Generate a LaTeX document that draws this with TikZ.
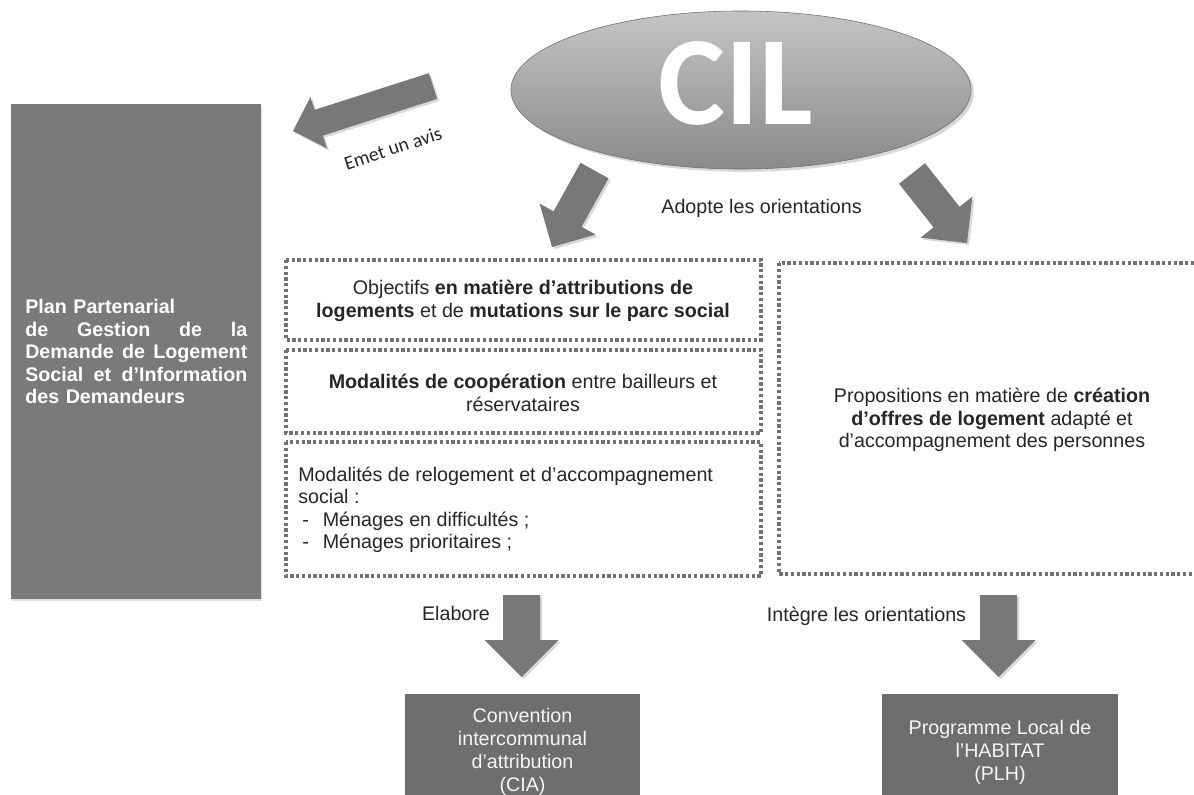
\documentclass[tikz,border=0pt]{standalone}
\usepackage{fontspec}
\setmainfont{Liberation Sans}
\newfontfamily\calibrifont{Carlito}
\usetikzlibrary{shapes.geometric,shadows,calc}

\definecolor{boxgray}{HTML}{7A7A7A}
\definecolor{darkgray}{HTML}{6E6E6E}
\definecolor{arrowgray}{HTML}{787878}
\definecolor{dashgray}{HTML}{727272}
\definecolor{inkgray}{HTML}{262626}
\definecolor{ciltop}{HTML}{C4C4C4}
\definecolor{cilbottom}{HTML}{8A8A8A}

% block arrow: tail, tip, shaft width (px)
\newcommand{\bigarrow}[3]{%
  \coordinate (ah) at ($#2!#3*0.025cm!#1$);
  \fill[arrowgray, drop shadow={shadow xshift=1.5pt,shadow yshift=-1.5pt,opacity=.3}]
    ($#1!#3*0.0125cm!90:#2$) -- ($(ah)!#3*0.0125cm!90:#2$) -- ($(ah)!#3*0.025cm!90:#2$)
    -- #2 -- ($(ah)!#3*0.025cm!-90:#2$) -- ($(ah)!#3*0.0125cm!-90:#2$)
    -- ($#1!#3*0.0125cm!-90:#2$) -- cycle;}

\begin{document}
\begin{tikzpicture}[x=0.025cm,y=-0.025cm]
  \tikzstyle{bodytext}=[inner sep=0pt, text=inkgray, align=center, font=\fontsize{14}{16}\selectfont]
  \tikzstyle{dashbox}=[draw=dashgray, line width=2.4pt, dash pattern=on 2.3pt off 1.8pt]
  \tikzstyle{darkbox}=[fill=darkgray, text=white!92!gray, align=center, minimum width=5.875cm, minimum height=2.9cm, font=\fontsize{14}{16.3}\selectfont]
  \fill[white] (0,0) rectangle (1194,794);
  \useasboundingbox (0,0) rectangle (1194,794);

  % left panel
  \node[fill=boxgray, minimum width=6.25cm, minimum height=12.375cm, inner sep=0pt,
        drop shadow={shadow xshift=1pt,shadow yshift=-1.5pt,opacity=.25}] (ppgd) at (136,351.5) {};
  \node[anchor=north west, inner sep=0pt, text width=5.55cm, align=left, text=white,
        font=\fontsize{14}{16}\selectfont\bfseries] (ppgdtxt) at (25,299)
    {Plan Partenarial\\
     \makebox[5.55cm][s]{de\hfill Gestion\hfill de\hfill la}\\
     \makebox[5.55cm][s]{Demande\hfill de\hfill Logement}\\
     \makebox[5.55cm][s]{Social\hfill et\hfill d’Information}\\
     des Demandeurs};

  % CIL
  \node[ellipse, draw=darkgray, top color=ciltop, bottom color=cilbottom, inner sep=0pt,
        minimum width=11.5cm, minimum height=3.95cm,
        drop shadow={shadow xshift=2pt,shadow yshift=-2pt,opacity=.3}] (cil) at (741,90) {};
  \node[text=white, inner sep=0pt, font=\calibrifont\bfseries\fontsize{90}{90}\selectfont] (ciltxt) at (736,83) {CIL};

  % arrows from CIL
  \bigarrow{(433,86)}{(293,131)}{27}
  \bigarrow{(594.5,170.5)}{(552,247)}{32}
  \bigarrow{(912,173.5)}{(967,243)}{33}
  \node[inner sep=0pt, rotate=18, text=inkgray, font=\calibrifont\fontsize{14}{16}\selectfont] (avis) at (393,148) {Emet un avis};
  \node[bodytext] (adopte) at (761.5,208) {Adopte les orientations};

  % dashed boxes
  \foreach \ytop/\ybot in {260/340, 350/433, 442/576}
    \draw[dashbox] (286,\ytop) rectangle (761,\ybot);
  \draw[dashbox] (779,263) rectangle (1206,574);

  \node[bodytext] (objectifs) at (523,301)
    {Objectifs \textbf{en matière d’attributions de}\\
     \textbf{logements} et de \textbf{mutations sur le parc social}};
  \node[bodytext] (cooperation) at (523,393)
    {\textbf{Modalités de coopération} entre bailleurs et\\ réservataires};
  \node[bodytext, align=left, anchor=west] (relogement) at (298,510)
    {Modalités de relogement et d’accompagnement\\
     social :\\
     \hspace*{0.1cm}-\hspace{0.35cm}Ménages en difficultés ;\\
     \hspace*{0.1cm}-\hspace{0.35cm}Ménages prioritaires ;};
  \node[bodytext] (propositions) at (992,420)
    {Propositions en matière de \textbf{création}\\
     \textbf{d’offres de logement} adapté et\\
     d’accompagnement des personnes};

  % bottom arrows
  \foreach \x in {521.5,998.7}
    {\bigarrow{(\x,595)}{(\x,677)}{37}}
  \node[bodytext] (elabore) at (456,613) {Elabore};
  \node[bodytext] (integre) at (866.5,616) {Intègre les orientations};

  \node[darkbox] (cia) at (522.5,752) {Convention\\ intercommunal\\ d’attribution\\ (CIA)};
  \node[darkbox] (plh) at (1000,752) {Programme Local de\\ l’HABITAT\\ (PLH)};
\end{tikzpicture}
\end{document}
